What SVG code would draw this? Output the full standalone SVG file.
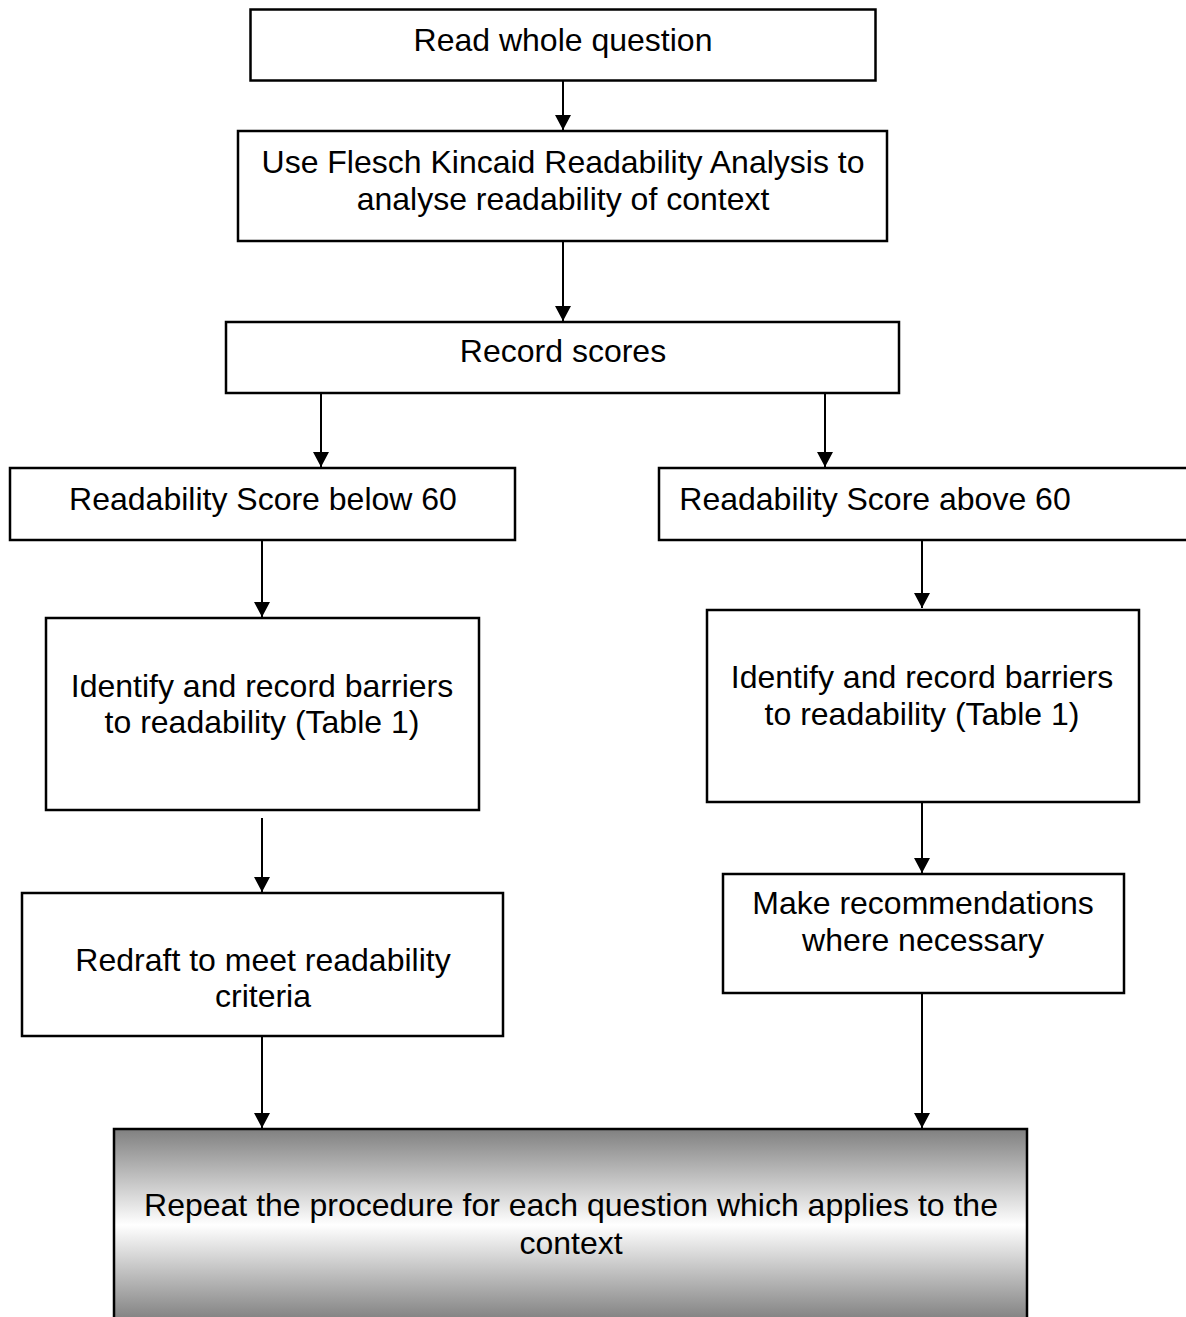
<svg xmlns="http://www.w3.org/2000/svg" width="1186" height="1317" viewBox="0 0 1186 1317">
<style>
.box{fill:#fff;stroke:#000;stroke-width:2.5}
.t{font-family:"Liberation Sans",Arial,sans-serif;font-size:32px;fill:#000;text-anchor:middle}
.c{stroke:#000;stroke-width:2;fill:none;marker-end:url(#ah)}
</style>
<defs>
<marker id="ah" markerUnits="userSpaceOnUse" markerWidth="16" markerHeight="16" refX="15" refY="8" orient="auto">
<path d="M0,0 L15,8 L0,16 Z" fill="#000"/>
</marker>
<linearGradient id="g" x1="0" y1="0" x2="0" y2="1">
<stop offset="0" stop-color="#808080"/>
<stop offset="0.5" stop-color="#ffffff"/>
<stop offset="1" stop-color="#808080"/>
</linearGradient>
</defs>
<g id="connectors">
<line class="c" x1="563" y1="81" x2="563" y2="130"/>
<line class="c" x1="563" y1="241" x2="563" y2="321"/>
<line class="c" x1="321" y1="393" x2="321" y2="467"/>
<line class="c" x1="825" y1="393" x2="825" y2="467"/>
<line class="c" x1="262" y1="540" x2="262" y2="617"/>
<line class="c" x1="922" y1="540" x2="922" y2="608"/>
<line class="c" x1="262" y1="818" x2="262" y2="892"/>
<line class="c" x1="922" y1="802" x2="922" y2="873"/>
<line class="c" x1="262" y1="1036" x2="262" y2="1128"/>
<line class="c" x1="922" y1="993" x2="922" y2="1128"/>
</g>
<g id="n1"><rect class="box" x="250.5" y="9.5" width="625" height="71"/><text class="t" x="563" y="51">Read whole question</text></g>
<g id="n2"><rect class="box" x="238" y="131" width="649" height="110"/><text class="t" x="563" y="173">Use Flesch Kincaid Readability Analysis to</text><text class="t" x="563" y="210">analyse readability of context</text></g>
<g id="n3"><rect class="box" x="226" y="322" width="673" height="71"/><text class="t" x="563" y="362">Record scores</text></g>
<g id="n4"><rect class="box" x="10" y="468" width="505" height="72"/><text class="t" x="263" y="510">Readability Score below 60</text></g>
<g id="n5"><rect class="box" x="659" y="468" width="540" height="72"/><text class="t" x="875" y="510">Readability Score above 60</text></g>
<g id="n6"><rect class="box" x="46" y="618" width="433" height="192"/><text class="t" x="262" y="697">Identify and record barriers</text><text class="t" x="262" y="733">to readability (Table 1)</text></g>
<g id="n7"><rect class="box" x="707" y="610" width="432" height="192"/><text class="t" x="922" y="688">Identify and record barriers</text><text class="t" x="922" y="725">to readability (Table 1)</text></g>
<g id="n8"><rect class="box" x="723" y="874" width="401" height="119"/><text class="t" x="923" y="914">Make recommendations</text><text class="t" x="923" y="951">where necessary</text></g>
<g id="n9"><rect class="box" x="22" y="893" width="481" height="143"/><text class="t" x="263" y="971">Redraft to meet readability</text><text class="t" x="263" y="1007">criteria</text></g>
<g id="n10"><rect x="114" y="1129" width="913" height="192" fill="url(#g)" stroke="#000" stroke-width="2.5"/><text class="t" x="571" y="1216">Repeat the procedure for each question which applies to the</text><text class="t" x="571" y="1254">context</text></g>
</svg>
